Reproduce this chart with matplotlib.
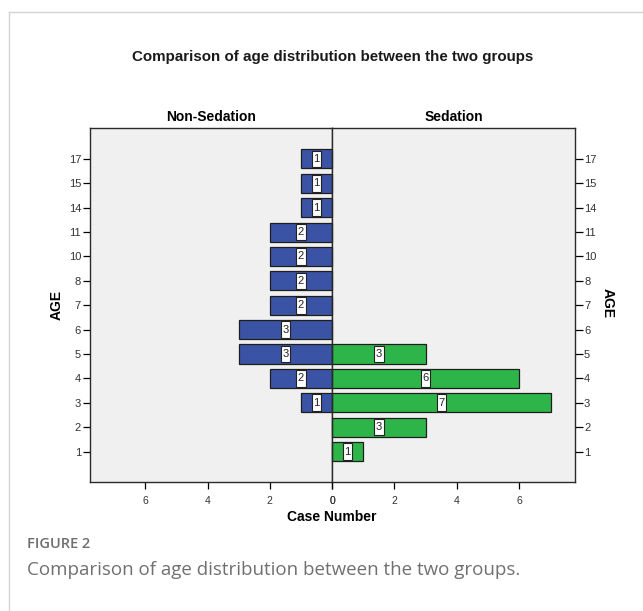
import matplotlib
matplotlib.use('Agg')
import matplotlib.pyplot as plt
from matplotlib.lines import Line2D
from matplotlib.patches import Rectangle

# Age categories and case counts per group
AGES = ['1', '2', '3', '4', '5', '6', '7', '8', '10', '11', '14', '15', '17']
NON_SEDATION = [0, 0, 1, 2, 3, 3, 2, 2, 2, 2, 1, 1, 1]
SEDATION = [1, 3, 7, 6, 3, 0, 0, 0, 0, 0, 0, 0, 0]
X_TICKS = [0, 2, 4, 6]

BLUE = '#3a53a4'
GREEN = '#2eb54a'
PANEL_BG = '#f0f0f0'

plt.rcParams.update({
    'font.family': ['Liberation Sans', 'DejaVu Sans'],
    'axes.linewidth': 1.0,
})

W, H = 643, 611
fig = plt.figure(figsize=(W / 100, H / 100), dpi=100)

# thin frame around the figure, as in the journal page
fig.add_artist(Line2D([9 / W, 1], [1 - 12 / H, 1 - 12 / H], color='#d4d4d4', lw=1.0))
fig.add_artist(Line2D([9 / W, 9 / W], [0, 1 - 12 / H], color='#d4d4d4', lw=1.0))

x_left, x_mid, x_right = 90, 332, 575
y_top, y_bot = 128, 482
ax_l = fig.add_axes([x_left / W, 1 - y_bot / H, (x_mid - x_left) / W, (y_bot - y_top) / H])
ax_r = fig.add_axes([x_mid / W, 1 - y_bot / H, (x_right - x_mid) / W, (y_bot - y_top) / H])

pos = list(range(len(AGES)))
xmax = 7.78


def draw_panel(ax, values, color):
    ax.set_facecolor(PANEL_BG)
    ax.barh(pos, values, height=0.78, color=color, edgecolor='#1e1e1e', linewidth=0.9)
    for p, v in zip(pos, values):
        if v > 0:
            # SPSS-style white label box, narrow and nearly bar-tall
            ax.add_patch(Rectangle((v / 2 - 0.15, p - 0.34), 0.3, 0.68, facecolor='white',
                                   edgecolor='#222222', linewidth=0.8, zorder=3))
            ax.text(v / 2, p, str(v), ha='center', va='center', fontsize=8,
                    color='#222222', zorder=4)
    ax.set_ylim(-1.25, len(AGES) - 1 + 1.27)
    ax.set_xticks(X_TICKS)
    ax.set_xticklabels([str(t) for t in X_TICKS], fontsize=7.5, color='#333333')
    ax.tick_params(axis='x', length=5, width=0.9, pad=5)
    for s in ax.spines.values():
        s.set_color('#2a2a2a')


draw_panel(ax_l, NON_SEDATION, BLUE)
ax_l.set_xlim(xmax, 0)
ax_l.set_yticks(pos)
ax_l.set_yticklabels(AGES, fontsize=8, color='#333333')
ax_l.tick_params(axis='y', length=5, width=0.9, pad=1.5)
ax_l.set_title('Non-Sedation', fontsize=10, fontweight='bold', pad=5)

draw_panel(ax_r, SEDATION, GREEN)
ax_r.set_xlim(0, xmax)
ax_r.set_yticks(pos)
ax_r.yaxis.tick_right()
ax_r.set_yticklabels(AGES, fontsize=8, color='#333333')
ax_r.tick_params(axis='y', length=6, width=0.9, pad=0.5, left=False)
ax_r.set_title('Sedation', fontsize=10, fontweight='bold', pad=5)

fig.text(333 / W, 1 - 57 / H, 'Comparison of age distribution between the two groups',
         ha='center', va='center', fontsize=10.9, fontweight='bold', color='#1a1a1a')
fig.text(57 / W, 1 - 305 / H, 'AGE', rotation=90, ha='center', va='center',
         fontsize=10, fontweight='bold')
fig.text(608 / W, 1 - 303 / H, 'AGE', rotation=-90, ha='center', va='center',
         fontsize=10, fontweight='bold')
fig.text(332 / W, 1 - 517 / H, 'Case Number', ha='center', va='center',
         fontsize=10, fontweight='bold')

fig.text(27 / W, 1 - 544 / H, 'FIGURE 2', ha='left', va='center', fontsize=10.5,
         fontweight='semibold', color='#6e6e6e', family=['Open Sans', 'DejaVu Sans'])
fig.text(27 / W, 1 - 570 / H, 'Comparison of age distribution between the two groups.',
         ha='left', va='center', fontsize=13.5, color='#707070',
         family=['Open Sans', 'DejaVu Sans'])

fig.savefig('out.png', dpi=100, facecolor='white')
